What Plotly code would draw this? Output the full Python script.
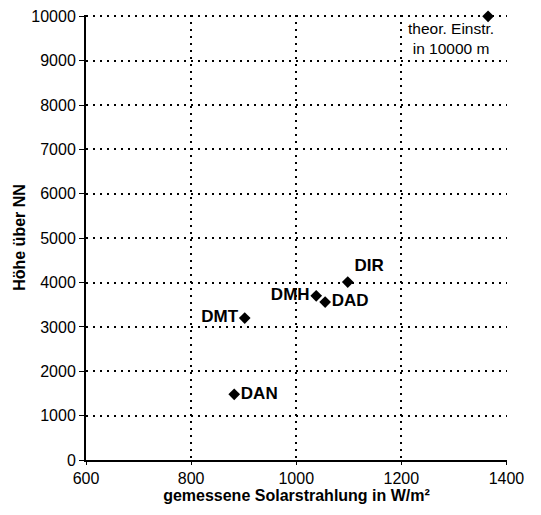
import plotly.graph_objects as go

stations = ["DAN", "DMT", "DMH", "DAD", "DIR"]
strahlung = [882, 902, 1038, 1055, 1098]
hoehe = [1480, 3200, 3700, 3560, 4010]
label_pos = ["middle right", "middle left", "middle left", "middle right", "top right"]

theor_x = [1365]
theor_y = [10000]
theor_text = "theor. Einstr.<br>in 10000 m"

x_ticks = [600, 800, 1000, 1200, 1400]
y_ticks = [0, 1000, 2000, 3000, 4000, 5000, 6000, 7000, 8000, 9000, 10000]
y_tick_labels = [str(v) for v in y_ticks]

fig = go.Figure()
fig.add_trace(go.Scatter(
    x=strahlung, y=hoehe, mode="markers+text", text=stations,
    textposition=label_pos,
    textfont=dict(family="Liberation Sans", size=17, color="black", weight="bold"),
    marker=dict(symbol="diamond", size=9, color="black"),
    cliponaxis=False, showlegend=False,
))
fig.add_trace(go.Scatter(
    x=theor_x, y=theor_y, mode="markers",
    marker=dict(symbol="diamond", size=9, color="black"),
    cliponaxis=False, showlegend=False,
))
fig.add_annotation(
    x=theor_x[0], y=theor_y[0], text=theor_text, showarrow=False,
    xanchor="right", yanchor="top", xshift=8, yshift=-2,
    font=dict(family="Liberation Sans", size=15.5, color="black"), align="center",
)

axis_common = dict(
    showline=True, linecolor="black", linewidth=2,
    ticks="outside", tickcolor="black", tickwidth=1,
    showgrid=True, gridcolor="black", griddash="2px,5px", gridwidth=1.5,
    zeroline=False, automargin=False, ticklabeloverflow="allow",
    tickfont=dict(family="Liberation Sans", size=16, color="black"),
)
fig.update_xaxes(
    range=[600, 1401], tickvals=x_ticks, ticklen=3,
    title=dict(text="<b>gemessene Solarstrahlung in W/m²</b>", standoff=0,
               font=dict(family="Liberation Sans", size=16, color="black")),
    **axis_common,
)
fig.update_yaxes(
    range=[0, 10030], tickvals=y_ticks, ticktext=y_tick_labels, ticklen=5,
    title=dict(text="<b>Höhe über NN</b>", standoff=2,
               font=dict(family="Liberation Sans", size=16, color="black")),
    **axis_common,
)
fig.update_layout(
    width=533, height=507,
    margin=dict(l=78, r=34, t=7, b=55),
    plot_bgcolor="white", paper_bgcolor="white",
)
fig.write_html("out.html")
